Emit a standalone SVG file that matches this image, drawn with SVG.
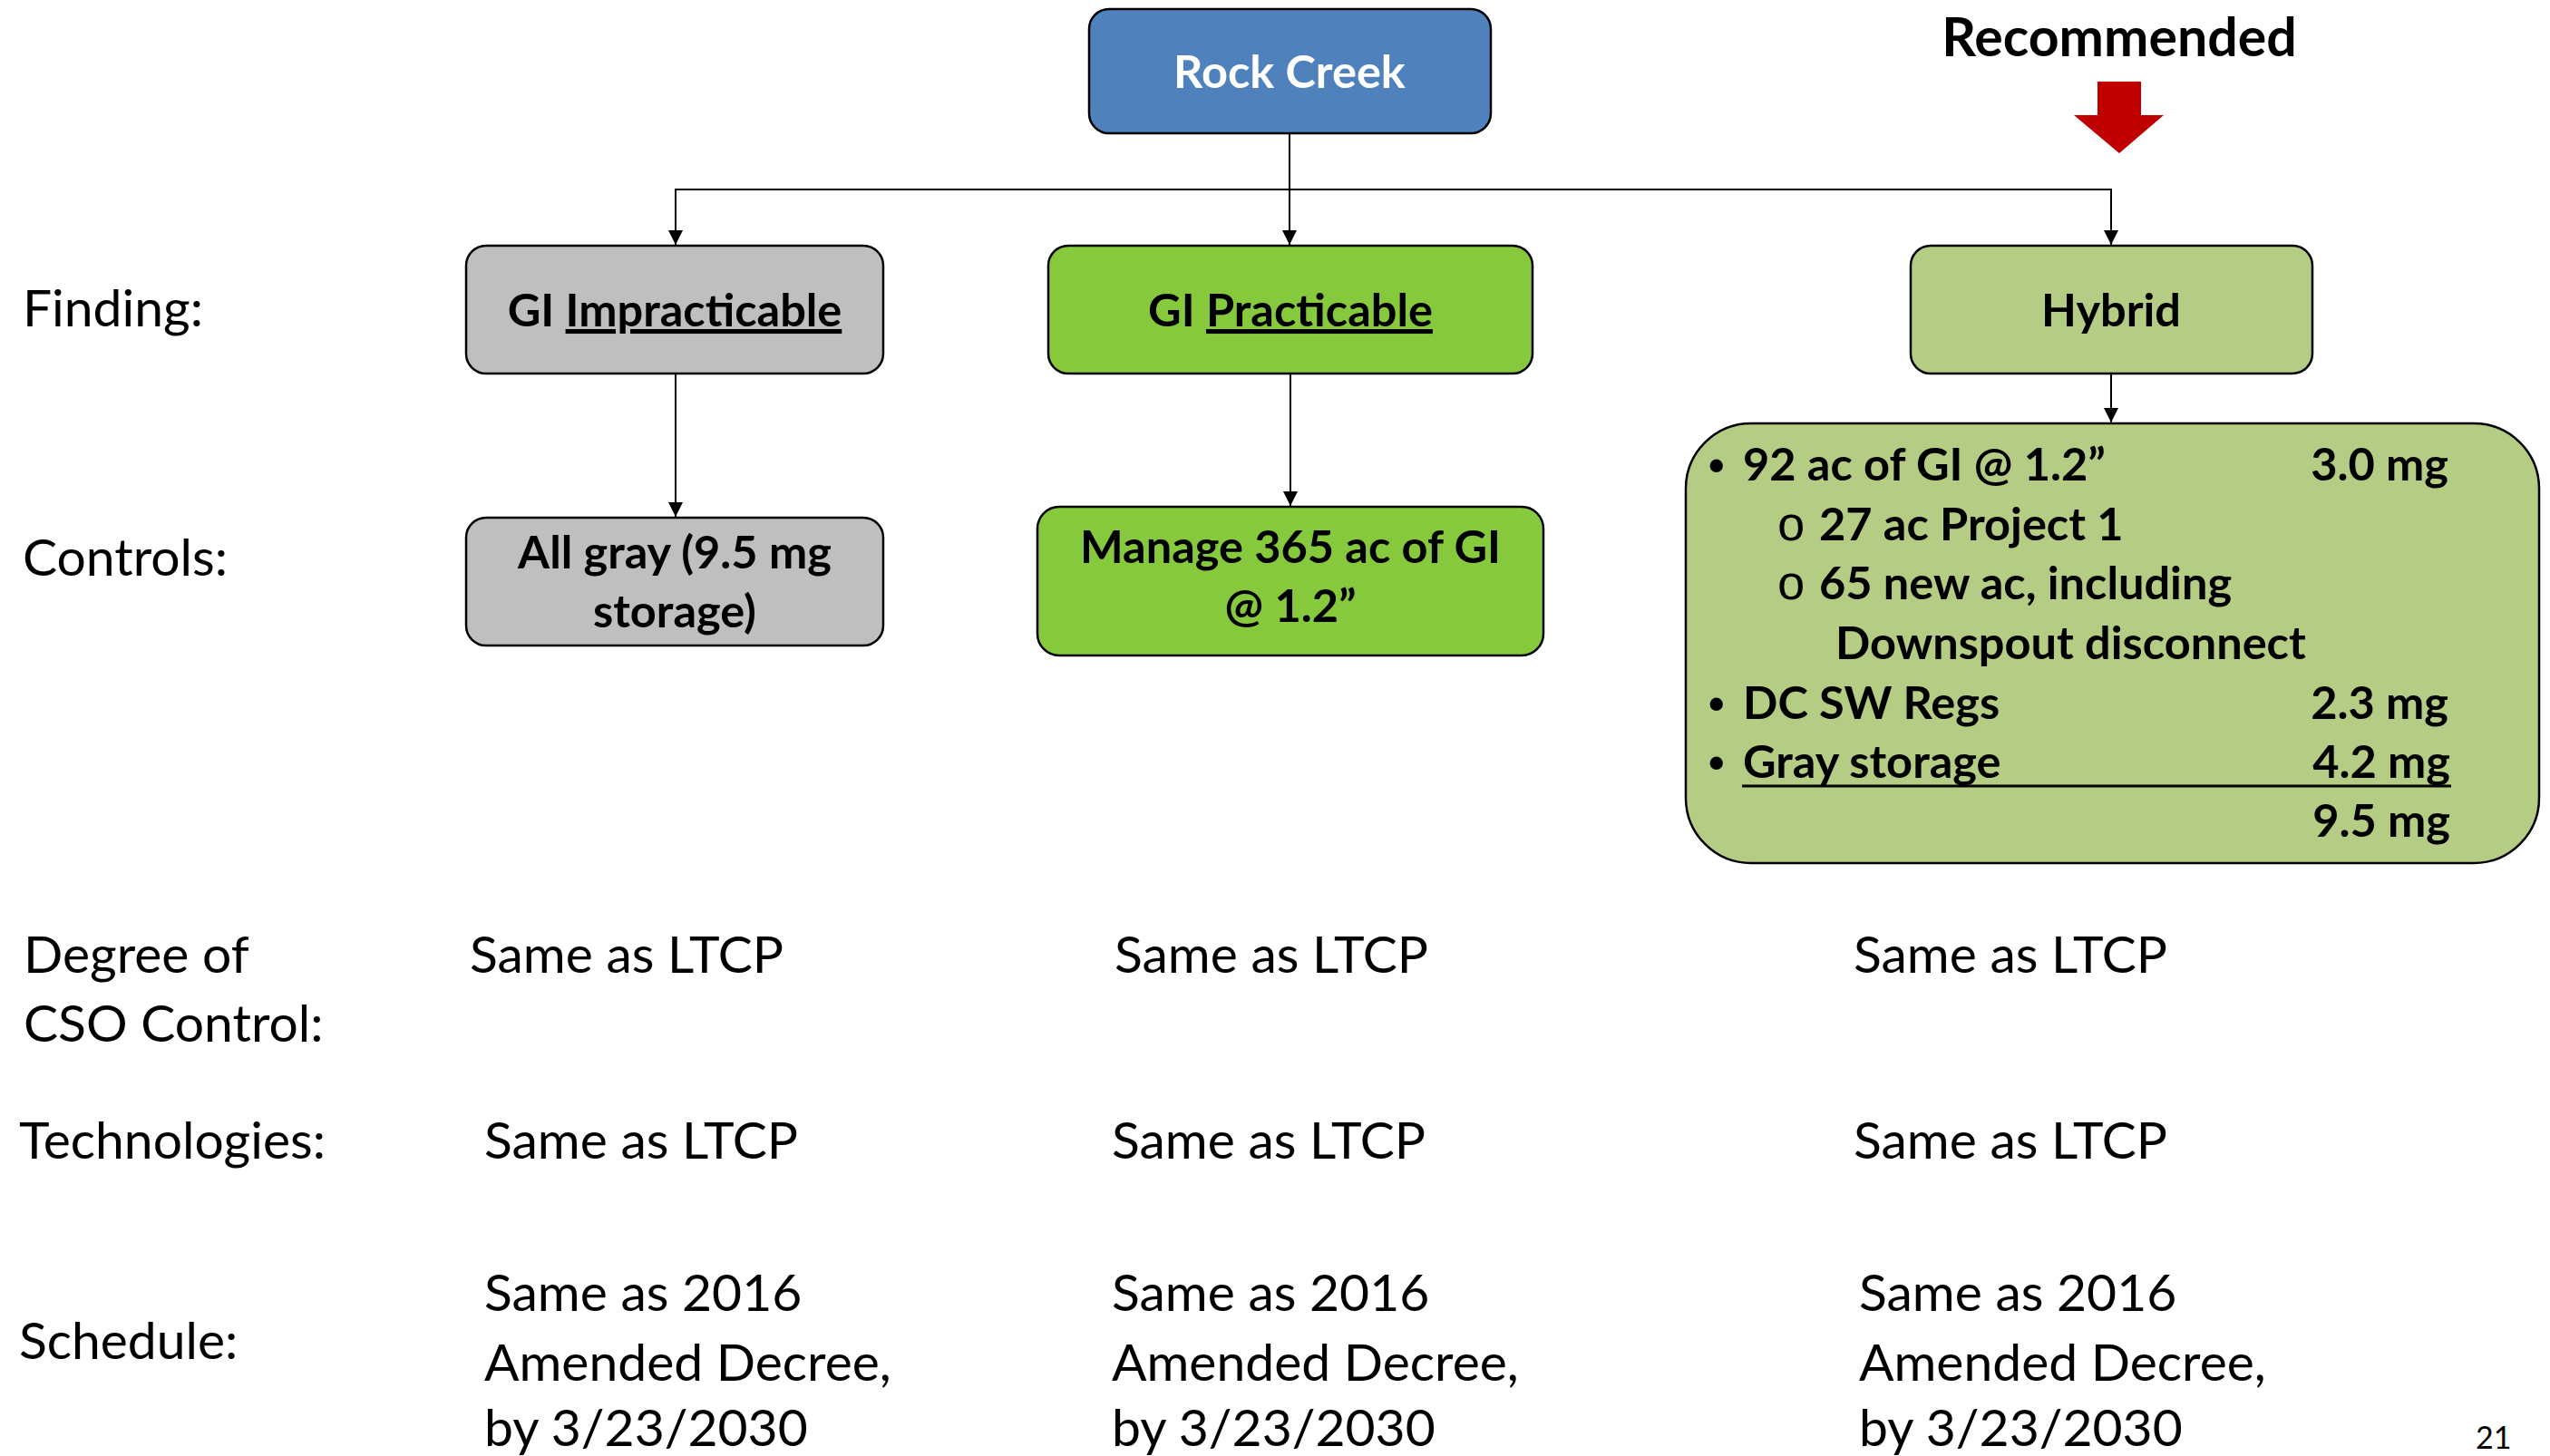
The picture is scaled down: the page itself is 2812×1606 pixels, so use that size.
<svg xmlns="http://www.w3.org/2000/svg" width="2812" height="1606" viewBox="0 0 2812 1606">
  <style>
    .box { stroke: #000; stroke-width: 2.5; }
    .blue { fill: #4F81BD; }
    .gray { fill: #BFBFBF; }
    .green { fill: #86C93D; }
    .olive { fill: #B4CC84; }
    .b { font-family: Lato, "Open Sans", sans-serif; font-weight: bold; font-size: 50.5px; fill: #000; }
    .r { font-family: Lato, "Open Sans", sans-serif; font-size: 57px; fill: #000; }
    .c { text-anchor: middle; }
    .e { text-anchor: end; }
    .w { fill: #FFFFFF; }
    .u { text-decoration: underline; }
    .bul { font-family: "Liberation Sans", Arial, sans-serif; font-weight: bold; font-size: 50px; }
    .sub { font-family: "Liberation Mono", "Courier New", monospace; font-size: 54px; }
    .conn { stroke: #000; stroke-width: 2; fill: none; }
  </style>
  <defs>
    <marker id="ah" markerUnits="userSpaceOnUse" markerWidth="16" markerHeight="16" viewBox="0 0 16 16" refX="16" refY="8" orient="auto">
      <path d="M0,0 L16,8 L0,16 Z" fill="#000"/>
    </marker>
  </defs>

  <!-- Connectors -->
  <g id="connectors">
    <line class="conn" x1="1422" y1="147" x2="1422" y2="270" marker-end="url(#ah)"/>
    <polyline class="conn" points="745,271 745,209 2328,209 2328,270" marker-end="url(#ah)"/>
    <line class="conn" x1="745" y1="209" x2="745" y2="270" marker-end="url(#ah)"/>
    <line class="conn" x1="745" y1="412" x2="745" y2="570" marker-end="url(#ah)"/>
    <line class="conn" x1="1423" y1="412" x2="1423" y2="558" marker-end="url(#ah)"/>
    <line class="conn" x1="2328" y1="412" x2="2328" y2="466" marker-end="url(#ah)"/>
  </g>

  <!-- Nodes -->
  <g id="rock-creek">
    <rect class="box blue" x="1201" y="10" width="443" height="137" rx="22"/>
    <text class="b c w" x="1422" y="97">Rock Creek</text>
  </g>

  <g id="gi-impracticable">
    <rect class="box gray" x="514" y="271" width="460" height="141" rx="22"/>
    <text class="b c" x="744" y="360">GI <tspan class="u">Impracticable</tspan></text>
  </g>

  <g id="gi-practicable">
    <rect class="box green" x="1156" y="271" width="534" height="141" rx="22"/>
    <text class="b c" x="1423" y="360">GI <tspan class="u">Practicable</tspan></text>
  </g>

  <g id="hybrid">
    <rect class="box olive" x="2107" y="271" width="443" height="141" rx="22"/>
    <text class="b c" x="2328" y="360">Hybrid</text>
  </g>

  <g id="all-gray">
    <rect class="box gray" x="514" y="571" width="460" height="141" rx="22"/>
    <text class="b c" x="744" y="627">All gray (9.5 mg</text>
    <text class="b c" x="744" y="692">storage)</text>
  </g>

  <g id="manage-gi">
    <rect class="box green" x="1144" y="559" width="558" height="164" rx="24"/>
    <text class="b c" x="1423" y="621">Manage 365 ac of GI</text>
    <text class="b c" x="1423" y="686">@ 1.2”</text>
  </g>

  <g id="hybrid-details">
    <rect class="box olive" x="1859" y="467" width="941" height="485" rx="72"/>
    <text class="bul" x="1884" y="530">•</text>
    <text class="b" x="1922" y="530">92 ac of GI @ 1.2”</text>
    <text class="b e" x="2700" y="530">3.0 mg</text>
    <text class="sub" x="1959" y="596">o</text>
    <text class="b" x="2006" y="596">27 ac Project 1</text>
    <text class="sub" x="1959" y="661">o</text>
    <text class="b" x="2006" y="661">65 new ac, including</text>
    <text class="b" x="2024" y="727">Downspout disconnect</text>
    <text class="bul" x="1884" y="793">•</text>
    <text class="b" x="1922" y="793">DC SW Regs</text>
    <text class="b e" x="2700" y="793">2.3 mg</text>
    <text class="bul" x="1884" y="858">•</text>
    <text class="b" x="1922" y="858">Gray storage</text>
    <text class="b e" x="2702" y="858">4.2 mg</text>
    <line x1="1921" y1="867" x2="2703" y2="867" stroke="#000" stroke-width="3"/>
    <text class="b e" x="2702" y="923">9.5 mg</text>
  </g>

  <g id="recommended">
    <text class="b c" x="2337" y="62" style="font-size:59px">Recommended</text>
    <polygon points="2313,90 2361,90 2361,127 2386,127 2337,169 2287,127 2313,127" fill="#C00000"/>
  </g>

  <!-- Row labels -->
  <g id="row-labels">
    <text class="r" x="25" y="360">Finding:</text>
    <text class="r" x="25" y="635">Controls:</text>
    <text class="r" x="26" y="1073">Degree of</text>
    <text class="r" x="26" y="1149">CSO Control:</text>
    <text class="r" x="21" y="1278">Technologies:</text>
    <text class="r" x="21" y="1499">Schedule:</text>
  </g>

  <!-- Column texts -->
  <g id="col1">
    <text class="r" x="518" y="1073">Same as LTCP</text>
    <text class="r" x="534" y="1278">Same as LTCP</text>
    <text class="r" x="534" y="1446">Same as 2016</text>
    <text class="r" x="534" y="1523">Amended Decree,</text>
    <text class="r" x="534" y="1595">by 3/23/2030</text>
  </g>
  <g id="col2">
    <text class="r" x="1229" y="1073">Same as LTCP</text>
    <text class="r" x="1226" y="1278">Same as LTCP</text>
    <text class="r" x="1226" y="1446">Same as 2016</text>
    <text class="r" x="1226" y="1523">Amended Decree,</text>
    <text class="r" x="1226" y="1595">by 3/23/2030</text>
  </g>
  <g id="col3">
    <text class="r" x="2044" y="1073">Same as LTCP</text>
    <text class="r" x="2044" y="1278">Same as LTCP</text>
    <text class="r" x="2050" y="1446">Same as 2016</text>
    <text class="r" x="2050" y="1523">Amended Decree,</text>
    <text class="r" x="2050" y="1595">by 3/23/2030</text>
  </g>

  <g id="page-number">
    <text class="r" x="2730" y="1598" style="font-size:34px">21</text>
  </g>
</svg>
